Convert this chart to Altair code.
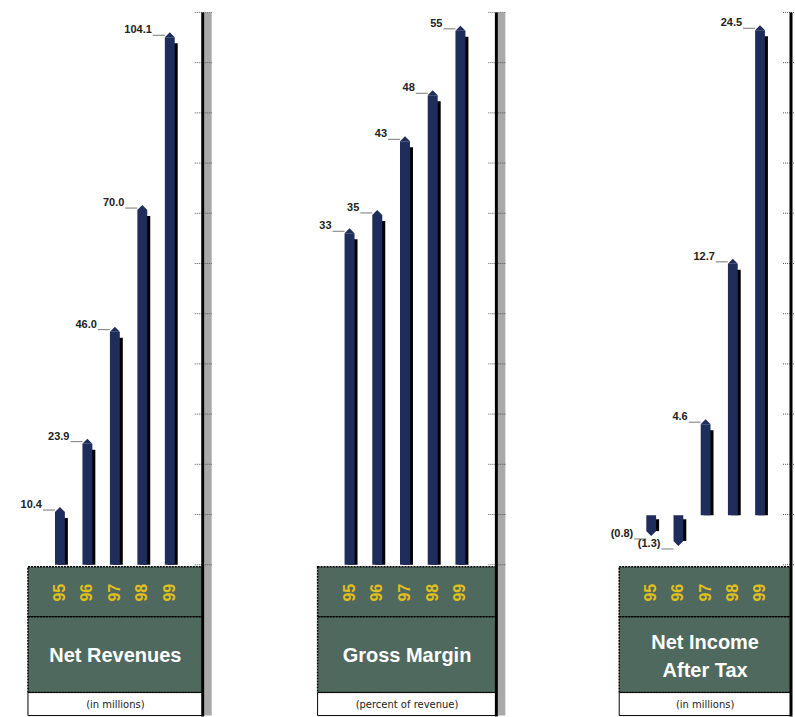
import altair as alt
import pandas as pd

YEARS = ["95", "96", "97", "98", "99"]
REV = [10.4, 23.9, 46.0, 70.0, 104.1]
REV_LABELS = ["10.4", "23.9", "46.0", "70.0", "104.1"]
GM = [33, 35, 43, 48, 55]
GM_LABELS = ["33", "35", "43", "48", "55"]
NI = [-0.8, -1.3, 4.6, 12.7, 24.5]
NI_LABELS = ["(0.8)", "(1.3)", "4.6", "12.7", "24.5"]
TICKS = list(range(12))

NAVY = "#1f2d5c"
GREEN = "#50695f"
YELLOW = "#e2c01c"
TITLE_FONT = "Liberation Sans, Arial, sans-serif"
LABEL_FONT = "Liberation Sans, Arial, sans-serif"

Y_TOP, Y_BOT = 12, 565
PI = 0.64


def one():
    return alt.Data(values=[{}])


def rect(x0, x1, y0, y1, fill, stroke=None, dash=None, sw=1):
    kw = dict(fill=fill, strokeWidth=sw)
    if stroke:
        kw["stroke"] = stroke
    if dash:
        kw["strokeDash"] = dash
    return alt.Chart(one()).mark_rect(**kw).encode(
        x=alt.value(x0), x2=alt.value(x1), y=alt.value(y0), y2=alt.value(y1))


def panel(values, labels, title, subtitle, width, box_x0, axis_x, band_range,
          y_domain, baseline, stipple=True):
    df = pd.DataFrame({"year": YEARS, "value": values, "label": labels})
    x = alt.X("year:N", sort=YEARS, axis=None,
              scale=alt.Scale(domain=YEARS, range=band_range,
                              paddingInner=PI, paddingOuter=PI / 2))
    y = alt.Y("value:Q", axis=None,
              scale=alt.Scale(domain=y_domain, range=[Y_BOT, Y_TOP]))
    base = alt.Chart(df).encode(x=x)
    pos = "datum.value >= 0"
    neg = "datum.value < 0"

    shadow_p = base.transform_filter(pos).mark_bar(
        color="black", xOffset=3, yOffset=6).encode(y=y, y2=alt.datum(baseline))
    shadow_n = base.transform_filter(neg).mark_bar(
        color="black", xOffset=3, y2Offset=4).encode(y=y, y2=alt.datum(baseline))
    bar = base.mark_bar(color=NAVY).encode(y=y, y2=alt.datum(baseline))
    tip_up = base.transform_filter(pos).mark_point(
        shape="M-1,0L0,-1L1,0Z", filled=True, size=100, color=NAVY,
        opacity=1).encode(y=y)
    tip_dn = base.transform_filter(neg).mark_point(
        shape="M-1,0L0,1L1,0Z", filled=True, size=100, color=NAVY,
        opacity=1).encode(y=y)
    lab_p = base.transform_filter(pos).mark_text(
        align="right", baseline="middle", dx=-18, dy=-7, fontSize=11,
        fontWeight="bold", font=LABEL_FONT, color="#222").encode(
        y=y, text="label:N")
    lab_n = base.transform_filter(neg).mark_text(
        align="right", baseline="middle", dx=-18, dy=3, fontSize=11,
        fontWeight="bold", font=LABEL_FONT, color="#222").encode(
        y=y, text="label:N")
    lead_p = base.transform_filter(pos).mark_tick(
        size=12, thickness=1, color="#777", xOffset=-11, yOffset=-2,
        opacity=1).encode(y=y)
    lead_n = base.transform_filter(neg).mark_tick(
        size=12, thickness=1, color="#777", xOffset=-11, yOffset=8,
        opacity=1).encode(y=y)

    layers = [shadow_p, shadow_n, bar, tip_up, tip_dn, lead_p, lead_n,
              lab_p, lab_n]

    # boxes
    layers.append(rect(box_x0, axis_x, 567, 617, GREEN, "black", [2, 1], 1.5))
    layers.append(rect(box_x0, axis_x, 617, 693, GREEN, "black", [2, 1], 1.5))
    layers.append(rect(box_x0, axis_x, 693, 716, "white", "black", None, 1))

    years = base.mark_text(angle=270, color=YELLOW, fontSize=16,
                           fontWeight="bold", baseline="middle",
                           align="center", font=LABEL_FONT).encode(
        y=alt.value(593), text="year:N")
    layers.append(years)

    cx = (box_x0 + axis_x) / 2
    if len(title) == 1:
        t = alt.Chart(one()).mark_text(
            text=title[0], font=TITLE_FONT, fontSize=20, fontWeight="bold",
            color="white", align="center", baseline="middle").encode(
            x=alt.value(cx), y=alt.value(656))
    else:
        t = alt.Chart(one()).mark_text(
            text=title, font=TITLE_FONT, fontSize=20, fontWeight="bold",
            color="white", align="center", baseline="middle",
            lineHeight=28).encode(x=alt.value(cx), y=alt.value(643))
    layers.append(t)
    layers.append(alt.Chart(one()).mark_text(
        text=subtitle, font="DejaVu Sans, sans-serif", fontSize=10,
        color="#222", align="center", baseline="middle").encode(
        x=alt.value(cx), y=alt.value(705)))

    # axis
    if stipple:
        layers.append(rect(axis_x + 1.5, axis_x + 9, Y_TOP, 716, "#a9a9a9"))
    tk = alt.Chart(pd.DataFrame({"k": TICKS})).mark_rule(
        color="#555", strokeWidth=1, strokeDash=[1, 1]).encode(
        y=alt.Y("k:Q", axis=None,
                scale=alt.Scale(domain=[0, 11], range=[Y_BOT, Y_TOP])),
        x=alt.value(axis_x - 8), x2=alt.value(axis_x + 9 if stipple else width))
    layers.append(tk)
    layers.append(alt.Chart(one()).mark_rule(color="black", strokeWidth=3).encode(
        x=alt.value(axis_x), y=alt.value(Y_TOP), y2=alt.value(717)))

    return alt.layer(*layers).resolve_scale(y="independent").properties(
        width=width, height=717)


p1 = panel(REV, REV_LABELS, ["Net Revenues"], "(in millions)", 215, 28, 203,
           [46.25, 183.75], [0, 109], 0)
p2 = panel(GM, GM_LABELS, ["Gross Margin"], "(percent of revenue)", 295, 103,
           282, [121.1, 259.9], [-3, 57], -3)
p3 = panel(NI, NI_LABELS, ["Net Income", "After Tax"], "(in millions)", 285,
           110, 282, [128.4, 264.6], [-2.5, 25.4], 0, stipple=False)

chart = alt.hconcat(p1, p2, p3, spacing=0).properties(
    padding=0, background="white").configure_view(strokeWidth=0)

chart.save("out.html", embed_options={"renderer": "svg", "actions": False})
